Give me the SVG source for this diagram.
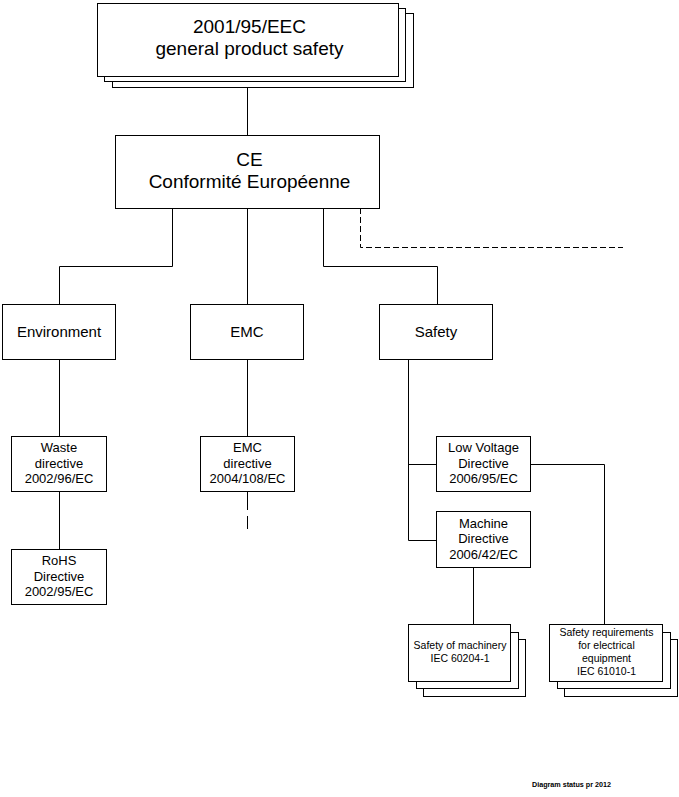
<svg xmlns="http://www.w3.org/2000/svg" width="679" height="797" viewBox="0 0 679 797">
<style>
rect{fill:#fff;stroke:#000;stroke-width:1}
.c line,.c polyline{stroke:#000;stroke-width:1;fill:none}
.d{stroke-dasharray:6 3}
text{font-family:"Liberation Sans",Arial,sans-serif;fill:#000;text-anchor:middle}
.big{font-size:19px}
.mid{font-size:15px}
.sm{font-size:13px}
.xs{font-size:10.5px}
</style>
<rect width="679" height="797" style="stroke:none"/>
<g class="c" id="connectors">
<line x1="247.5" y1="76" x2="247.5" y2="135.5"/>
<polyline points="172.5,208 172.5,266.5 59.5,266.5 59.5,304"/>
<line x1="247.5" y1="208" x2="247.5" y2="304"/>
<polyline points="323.5,208 323.5,266.5 437.5,266.5 437.5,304"/>
<polyline class="d" points="360.5,208 360.5,247.5 623,247.5"/>
<line x1="59.5" y1="360" x2="59.5" y2="437"/>
<line x1="59.5" y1="492" x2="59.5" y2="549"/>
<line x1="247.5" y1="360" x2="247.5" y2="437"/>
<line x1="247.5" y1="492" x2="247.5" y2="510"/>
<line x1="247.5" y1="516" x2="247.5" y2="529"/>
<polyline points="408.5,360 408.5,540.5 436,540.5"/>
<line x1="408.5" y1="464.5" x2="436" y2="464.5"/>
<polyline points="530,464.5 604.5,464.5 604.5,624"/>
<line x1="473.5" y1="568" x2="473.5" y2="624"/>
</g>
<g id="gps">
<rect x="112.5" y="13.5" width="301" height="74"/>
<rect x="104.5" y="8.5" width="301" height="73"/>
<rect x="97.5" y="3.5" width="301" height="73"/>
<text class="big" x="249.5" y="33">2001/95/EEC</text>
<text class="big" x="249.5" y="55">general product safety</text>
</g>
<g id="ce">
<rect x="115.5" y="135.5" width="264" height="73"/>
<text class="big" x="249.5" y="166">CE</text>
<text class="big" x="249.5" y="188">Conformité Européenne</text>
</g>
<g id="environment">
<rect x="2.5" y="304.5" width="113" height="55"/>
<text class="mid" x="59" y="337">Environment</text>
</g>
<g id="emc">
<rect x="190.5" y="304.5" width="113" height="55"/>
<text class="mid" x="247" y="337">EMC</text>
</g>
<g id="safety">
<rect x="379.5" y="304.5" width="113" height="55"/>
<text class="mid" x="436" y="337">Safety</text>
</g>
<g id="waste">
<rect x="11.5" y="436.5" width="95" height="55"/>
<text class="sm" x="59" y="452">Waste</text>
<text class="sm" x="59" y="467.5">directive</text>
<text class="sm" x="59" y="483">2002/96/EC</text>
</g>
<g id="rohs">
<rect x="11.5" y="549.5" width="95" height="55"/>
<text class="sm" x="59" y="565">RoHS</text>
<text class="sm" x="59" y="580.5">Directive</text>
<text class="sm" x="59" y="596">2002/95/EC</text>
</g>
<g id="emcdir">
<rect x="200.5" y="436.5" width="94" height="55"/>
<text class="sm" x="247.5" y="452">EMC</text>
<text class="sm" x="247.5" y="467.5">directive</text>
<text class="sm" x="247.5" y="483">2004/108/EC</text>
</g>
<g id="lvd">
<rect x="436.5" y="436.5" width="94" height="55"/>
<text class="sm" x="483.5" y="452">Low Voltage</text>
<text class="sm" x="483.5" y="467.5">Directive</text>
<text class="sm" x="483.5" y="483">2006/95/EC</text>
</g>
<g id="machine">
<rect x="436.5" y="511.5" width="94" height="56"/>
<text class="sm" x="483.5" y="527.5">Machine</text>
<text class="sm" x="483.5" y="543">Directive</text>
<text class="sm" x="483.5" y="558.5">2006/42/EC</text>
</g>
<g id="som">
<rect x="423.5" y="639.5" width="102" height="57"/>
<rect x="416.5" y="632.5" width="102" height="56"/>
<rect x="408.5" y="624.5" width="102" height="57"/>
<text class="xs" x="460" y="649">Safety of machinery</text>
<text class="xs" x="460" y="662">IEC 60204-1</text>
</g>
<g id="sreq">
<rect x="564.5" y="639.5" width="113" height="57"/>
<rect x="557.5" y="632.5" width="113" height="56"/>
<rect x="549.5" y="624.5" width="113" height="57"/>
<text class="xs" x="606.5" y="635.5">Safety requirements</text>
<text class="xs" x="606.5" y="648.5">for electrical</text>
<text class="xs" x="606.5" y="661.5">equipment</text>
<text class="xs" x="606.5" y="674.5">IEC 61010-1</text>
</g>
<text x="571.5" y="787" style="font-size:8px;font-weight:bold;text-anchor:middle" textLength="79" lengthAdjust="spacingAndGlyphs">Diagram status pr 2012</text>
</svg>
